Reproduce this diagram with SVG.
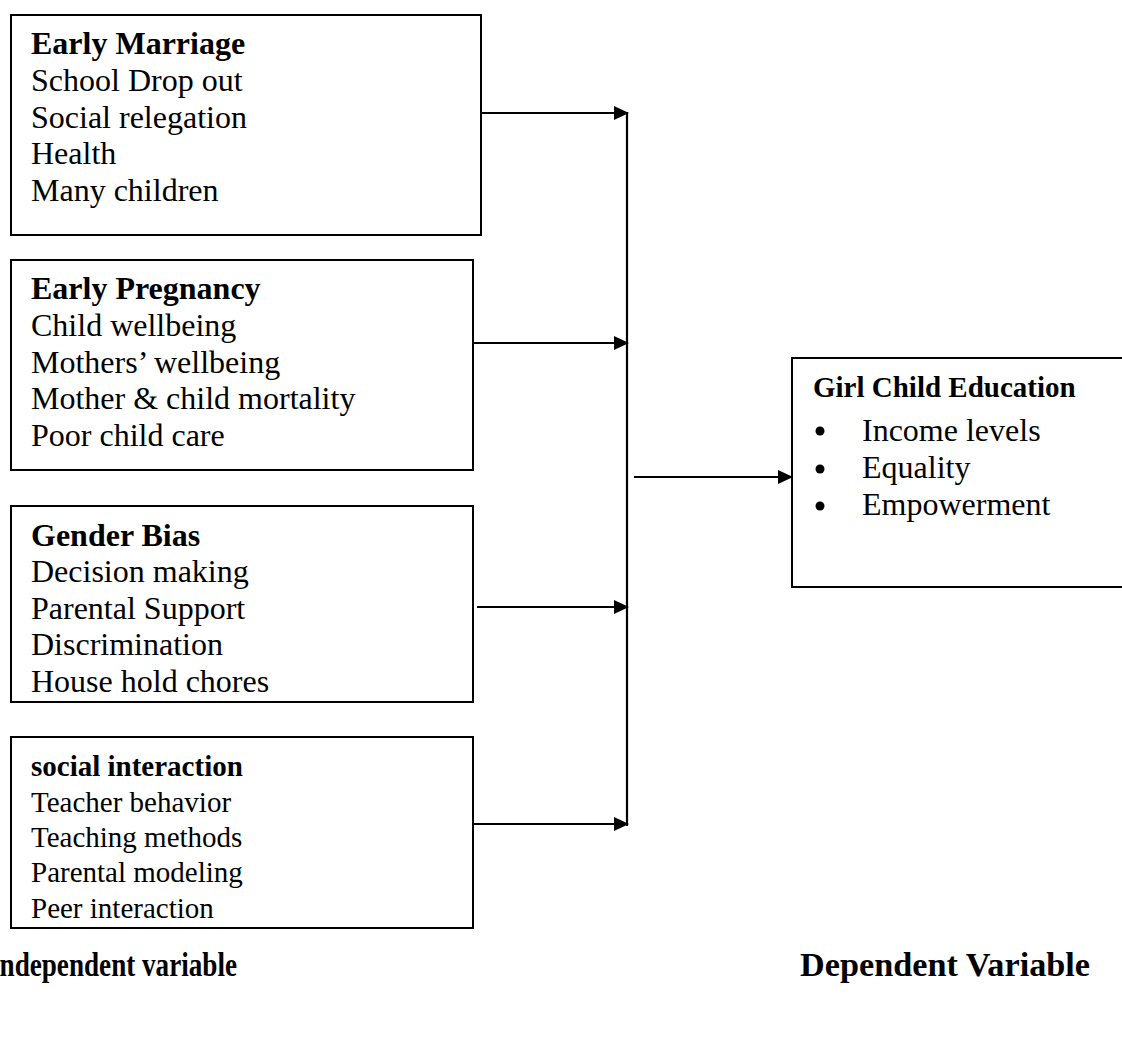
<svg xmlns="http://www.w3.org/2000/svg" width="1122" height="1048" viewBox="0 0 1122 1048">
  <style>
    .box { fill: #ffffff; stroke: #000000; stroke-width: 2; }
    .t { font-family: "Liberation Serif", "Times New Roman", serif; font-size: 32px; fill: #000; }
    .ts { font-family: "Liberation Serif", "Times New Roman", serif; font-size: 29px; fill: #000; }
    .lbl { font-family: "Liberation Serif", "Times New Roman", serif; font-size: 33px; font-weight: bold; fill: #000; }
    .b { font-weight: bold; }
    .conn { stroke: #000; stroke-width: 2.2; fill: none; }
  </style>
  <defs>
    <marker id="arrow" markerWidth="15" markerHeight="14" refX="14" refY="7" orient="auto" markerUnits="userSpaceOnUse">
      <path d="M0,0 L15,7 L0,14 Z" fill="#000"/>
    </marker>
    <clipPath id="clipPeer">
      <rect x="0" y="880" width="480" height="41"/>
    </clipPath>
  </defs>
  <rect width="1122" height="1048" fill="#fff"/>

  <g id="early-marriage">
    <rect class="box" x="11" y="15" width="470" height="220"/>
    <text class="t b" x="31" y="54">Early Marriage</text>
    <text class="t" x="31" y="91">School Drop out</text>
    <text class="t" x="31" y="128">Social relegation</text>
    <text class="t" x="31" y="164">Health</text>
    <text class="t" x="31" y="201">Many children</text>
  </g>

  <g id="early-pregnancy">
    <rect class="box" x="11" y="260" width="462" height="210"/>
    <text class="t b" x="31" y="299">Early Pregnancy</text>
    <text class="t" x="31" y="336">Child wellbeing</text>
    <text class="t" x="31" y="373">Mothers’ wellbeing</text>
    <text class="t" x="31" y="409">Mother &amp; child mortality</text>
    <text class="t" x="31" y="446">Poor child care</text>
  </g>

  <g id="gender-bias">
    <rect class="box" x="11" y="506" width="462" height="196"/>
    <text class="t b" x="31" y="546">Gender Bias</text>
    <text class="t" x="31" y="582">Decision making</text>
    <text class="t" x="31" y="619">Parental Support</text>
    <text class="t" x="31" y="655">Discrimination</text>
    <text class="t" x="31" y="692">House hold chores</text>
  </g>

  <g id="social-interaction">
    <rect class="box" x="11" y="737" width="462" height="191"/>
    <text class="ts b" x="31" y="776">social interaction</text>
    <text class="ts" x="31" y="812">Teacher behavior</text>
    <text class="ts" x="31" y="847">Teaching methods</text>
    <text class="ts" x="31" y="882">Parental modeling</text>
    <text class="ts" x="31" y="918" clip-path="url(#clipPeer)">Peer interaction</text>
  </g>

  <g id="girl-child-education">
    <rect class="box" x="792" y="358" width="340" height="229"/>
    <text class="ts b" x="813" y="397">Girl Child Education</text>
    <circle cx="820" cy="431" r="4.5"/>
    <text class="t" x="862" y="441">Income levels</text>
    <circle cx="820" cy="469" r="4.5"/>
    <text class="t" x="862" y="478">Equality</text>
    <circle cx="820" cy="506" r="4.5"/>
    <text class="t" x="862" y="515">Empowerment</text>
  </g>

  <g id="labels">
    <text class="lbl" x="-11" y="976" textLength="248" lengthAdjust="spacingAndGlyphs">Independent variable</text>
    <text class="lbl" x="800" y="976" textLength="290" lengthAdjust="spacingAndGlyphs">Dependent Variable</text>
  </g>

  <g id="connectors">
    <line class="conn" x1="627" y1="112" x2="627" y2="826"/>
    <line class="conn" x1="481" y1="113" x2="628" y2="113" marker-end="url(#arrow)"/>
    <line class="conn" x1="473" y1="343" x2="628" y2="343" marker-end="url(#arrow)"/>
    <line class="conn" x1="477" y1="607" x2="628" y2="607" marker-end="url(#arrow)"/>
    <line class="conn" x1="473" y1="824" x2="628" y2="824" marker-end="url(#arrow)"/>
    <line class="conn" x1="634" y1="477" x2="792" y2="477" marker-end="url(#arrow)"/>
  </g>
</svg>
